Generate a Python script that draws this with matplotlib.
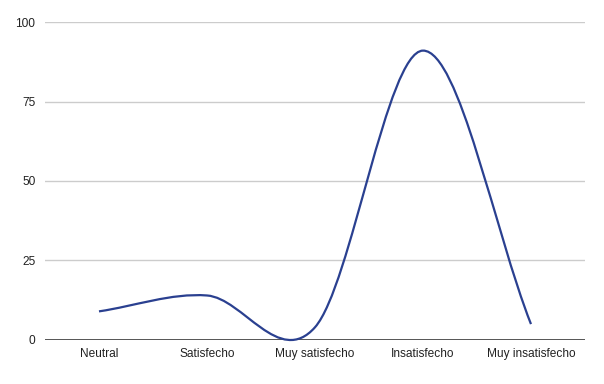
import numpy as np
import matplotlib
matplotlib.use("Agg")
import matplotlib.pyplot as plt
from matplotlib.path import Path
from matplotlib.patches import PathPatch

categories = ["Neutral", "Satisfecho", "Muy satisfecho", "Insatisfecho", "Muy insatisfecho"]
values = [9, 14, 4, 91, 5]
y_ticks = [0, 25, 50, 75, 100]

plt.rcParams["font.family"] = ["Liberation Sans", "DejaVu Sans"]

fig = plt.figure(figsize=(6.04, 3.84), dpi=100)
ax = fig.add_axes([0.0745, 0.1146, 0.894, 0.8281])

x = np.arange(len(categories), dtype=float)
y = np.asarray(values, dtype=float)

# smooth curve (Catmull-Rom style cubic bezier through the data points)
n = len(x)
tang = np.zeros(n)
for i in range(n):
    if i == 0:
        tang[i] = y[1] - y[0]
    elif i == n - 1:
        tang[i] = y[-1] - y[-2]
    else:
        tang[i] = (y[i + 1] - y[i - 1]) / 2.0
verts = [(x[0], y[0])]
codes = [Path.MOVETO]
for i in range(n - 1):
    verts += [(x[i] + 1 / 3, y[i] + tang[i] / 3),
              (x[i + 1] - 1 / 3, y[i + 1] - tang[i + 1] / 3),
              (x[i + 1], y[i + 1])]
    codes += [Path.CURVE4] * 3
ax.add_patch(PathPatch(Path(verts, codes), fill=False, edgecolor="#2a4090",
                       lw=1.6, zorder=3, clip_on=False, capstyle="butt"))

ax.set_xlim(-0.5, len(categories) - 0.5)
ax.set_ylim(0, 100)
ax.set_yticks(y_ticks)
ax.set_xticks(x)
ax.set_xticklabels(categories)
ax.tick_params(length=0, labelsize=8.6, colors="#222222")
ax.tick_params(axis="y", pad=7)
ax.tick_params(axis="x", pad=6)
for t in y_ticks[1:]:
    ax.axhline(t, color="#cccccc", lw=1, zorder=1)
ax.axhline(0, color="#555555", lw=1.4, zorder=2)
for s in ax.spines.values():
    s.set_visible(False)

fig.savefig("out.png", dpi=100)
